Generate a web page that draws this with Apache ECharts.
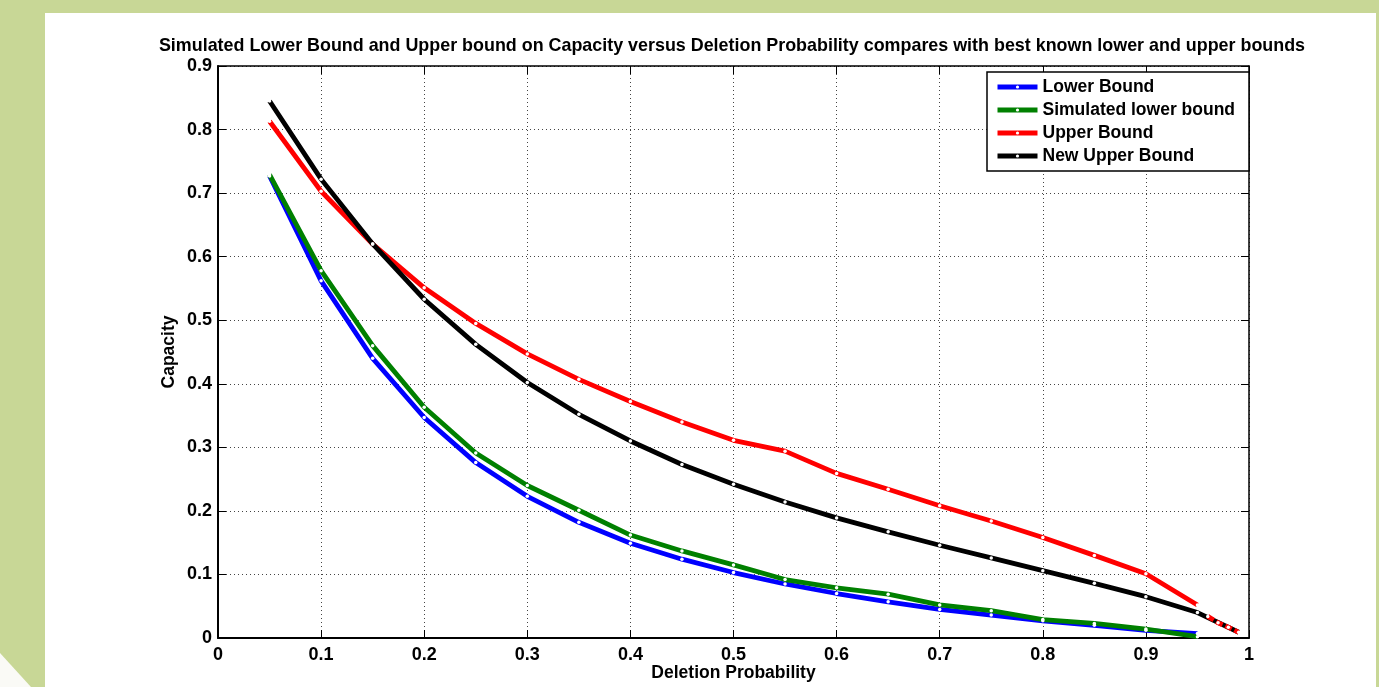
<!DOCTYPE html>
<html>
<head>
<meta charset="utf-8">
<script src="https://cdn.jsdelivr.net/npm/echarts@6/dist/echarts.min.js"></script>
<style>
  html, body { margin: 0; padding: 0; background: #c8d796; }
  #chart { width: 1379px; height: 687px; }
</style>
</head>
<body>
<div id="chart"></div>
<script>
// ---- data ----
const probs = [0.05, 0.10, 0.15, 0.20, 0.25, 0.30, 0.35, 0.40, 0.45, 0.50,
               0.55, 0.60, 0.65, 0.70, 0.75, 0.80, 0.85, 0.90, 0.95];
const lowerBound = [0.727, 0.562, 0.440, 0.347, 0.276, 0.223, 0.182, 0.149, 0.124, 0.103,
                    0.085, 0.070, 0.057, 0.045, 0.036, 0.027, 0.020, 0.012, 0.007];
const simulatedLower = [0.729, 0.578, 0.460, 0.363, 0.291, 0.240, 0.201, 0.162, 0.137, 0.115,
                        0.092, 0.079, 0.069, 0.052, 0.043, 0.029, 0.023, 0.014, 0.002];
const upperBound = [0.813, 0.703, 0.620, 0.551, 0.495, 0.447, 0.407, 0.372, 0.340, 0.311,
                    0.294, 0.259, 0.234, 0.208, 0.184, 0.158, 0.130, 0.101, 0.052];
const upperTailProbs = [0.96, 0.97, 0.98, 0.99];
const upperTail = [0.034, 0.024, 0.017, 0.009];
const newUpperProbs = probs.concat([0.99]);
const newUpperBound = [0.845, 0.722, 0.620, 0.533, 0.462, 0.402, 0.352, 0.310, 0.273, 0.242,
                       0.214, 0.189, 0.167, 0.146, 0.126, 0.106, 0.086, 0.065, 0.040, 0.009];
const seriesNames = ['Lower Bound', 'Simulated lower bound', 'Upper Bound', 'New Upper Bound'];
const chartTitle = 'Simulated Lower Bound and Upper bound on Capacity versus Deletion Probability compares with best known lower and upper bounds';

function pairs(xs, ys) { return xs.map((x, i) => [x, ys[i]]); }

const FONT = '"Liberation Sans", Arial, Helvetica, sans-serif';
const chart = echarts.init(document.getElementById('chart'), null, { renderer: 'canvas' });

function lineSeries(name, xs, ys, color, extra) {
  return Object.assign({
    name: name,
    type: 'line',
    data: pairs(xs, ys),
    symbol: 'circle',
    symbolSize: 3.5,
    showSymbol: true,
    itemStyle: { color: '#ffffff', borderWidth: 0 },
    lineStyle: { color: color, width: 4.8 },
    emphasis: { disabled: true },
    animation: false,
    z: 3
  }, extra || {});
}

const gridLine = { show: true, lineStyle: { color: '#444', width: 1, type: [1, 3] } };
const tickFont = { fontFamily: FONT, fontWeight: 'bold', fontSize: 18, color: '#000' };
const nameFont = { fontFamily: FONT, fontWeight: 'bold', fontSize: 17.5, color: '#000' };

const option = {
  backgroundColor: 'transparent',
  animation: false,
  graphic: [
    { type: 'rect', z: -100, silent: true, shape: { x: 45, y: 13, width: 1331, height: 674 }, style: { fill: '#ffffff' } },
    { type: 'polygon', z: -100, silent: true, shape: { points: [[0, 653], [31, 687], [0, 687]] }, style: { fill: '#fafaf6' } }
  ],
  title: {
    text: chartTitle,
    left: 727,
    textAlign: 'center',
    top: 32,
    textStyle: { fontFamily: FONT, fontWeight: 'bold', fontSize: 17.9, color: '#000' }
  },
  legend: {
    data: seriesNames,
    orient: 'vertical',
    left: 987,
    top: 72,
    padding: [6, 14, 6, 8],
    itemWidth: 40,
    itemHeight: 4,
    itemGap: 5,
    borderColor: '#000',
    borderWidth: 1.5,
    backgroundColor: '#fff',
    lineStyle: { width: 5 },
    itemStyle: { color: '#ffffff', borderWidth: 0 },
    textStyle: { fontFamily: FONT, fontWeight: 'bold', fontSize: 17.5, color: '#000' },
    selectedMode: false
  },
  grid: { left: 218, right: 130, top: 66, bottom: 49, containLabel: false, outerBoundsMode: 'none' },
  xAxis: [
    {
      type: 'value', min: 0, max: 1, interval: 0.1,
      name: 'Deletion Probability', nameLocation: 'middle', nameGap: 35, nameMoveOverlap: false,
      nameTextStyle: Object.assign({ verticalAlign: 'middle' }, nameFont),
      axisLine: { show: true, onZero: false, lineStyle: { color: '#000', width: 2 } },
      axisTick: { show: true, inside: true, length: 8, lineStyle: { color: '#000', width: 1 } },
      axisLabel: Object.assign({ margin: 8 }, tickFont),
      splitLine: gridLine
    },
    {
      type: 'value', min: 0, max: 1, interval: 0.1, position: 'top',
      axisLine: { show: true, onZero: false, lineStyle: { color: '#000', width: 1.5 } },
      axisTick: { show: true, inside: true, length: 8, lineStyle: { color: '#000', width: 1 } },
      axisLabel: { show: false }, splitLine: { show: false }
    }
  ],
  yAxis: [
    {
      type: 'value', min: 0, max: 0.9, interval: 0.1,
      name: 'Capacity', nameLocation: 'middle', nameGap: 49, nameRotate: 90, nameMoveOverlap: false,
      nameTextStyle: Object.assign({ verticalAlign: 'middle' }, nameFont),
      axisLine: { show: true, onZero: false, lineStyle: { color: '#000', width: 2 } },
      axisTick: { show: true, inside: true, length: 8, lineStyle: { color: '#000', width: 1 } },
      axisLabel: Object.assign({ margin: 6 }, tickFont),
      splitLine: gridLine
    },
    {
      type: 'value', min: 0, max: 0.9, interval: 0.1, position: 'right',
      axisLine: { show: true, onZero: false, lineStyle: { color: '#000', width: 1.5 } },
      axisTick: { show: true, inside: true, length: 8, lineStyle: { color: '#000', width: 1 } },
      axisLabel: { show: false }, splitLine: { show: false }
    }
  ],
  series: [
    lineSeries(seriesNames[0], probs, lowerBound, '#0000ff'),
    lineSeries(seriesNames[1], probs, simulatedLower, '#008000'),
    lineSeries(seriesNames[2], probs, upperBound, '#ff0000'),
    lineSeries(seriesNames[3], newUpperProbs, newUpperBound, '#000000'),
    lineSeries('Upper Bound tail', upperTailProbs, upperTail, '#ff0000',
      { lineStyle: { color: '#ff0000', width: 4.8, type: [7, 3] }, z: 4 })
  ]
};
chart.setOption(option);
</script>
</body>
</html>
